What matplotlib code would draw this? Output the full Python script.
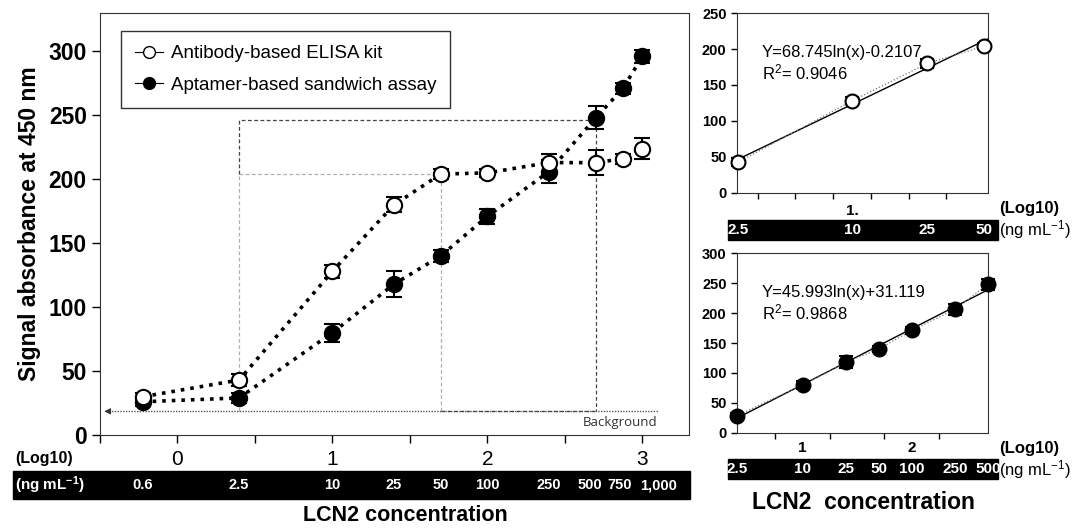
import matplotlib
matplotlib.use("Agg")
import matplotlib.pyplot as plt
import matplotlib.transforms as mtransforms
from matplotlib.patches import Rectangle
import numpy as np

plt.rcParams["font.family"] = ["Liberation Sans", "DejaVu Sans"]
plt.rcParams["mathtext.fontset"] = "custom"
plt.rcParams["mathtext.rm"] = "Liberation Sans"
plt.rcParams["mathtext.bf"] = "Liberation Sans:bold"
plt.rcParams["mathtext.default"] = "regular"

# LCN2 concentrations (ng/mL) and signals
conc = [0.6, 2.5, 10, 25, 50, 100, 250, 500, 750, 1000]
conc_labels = ["0.6", "2.5", "10", "25", "50", "100", "250", "500", "750", "1,000"]
elisa = [30, 43, 128, 180, 204, 205, 213, 213, 216, 224]
elisa_err = [3, 5, 5, 6, 4, 3, 7, 10, 4, 8]
aptamer = [26, 29, 80, 118, 140, 171, 206, 248, 271, 296]
aptamer_err = [3, 4, 7, 10, 5, 6, 9, 9, 4, 5]

background = 18.5
lod_low, lod_high = 204, 246   # guide levels

elisa_eq = "Y=68.745ln(x)-0.2107"
elisa_r2 = "R$^2$= 0.9046"
apt_eq = "Y=45.993ln(x)+31.119"
apt_r2 = "R$^2$= 0.9868"

logc = np.log10(conc)

fig = plt.figure(figsize=(10.83, 5.29), dpi=100)
ax = fig.add_axes([0.0923, 0.1777, 0.5437, 0.7977])

# --- guide lines ---
dark = dict(color="#444444", lw=0.9, ls=(0, (3, 2)))
light = dict(color="#b0b0b0", lw=0.9, ls=(0, (3, 2)))
x25, x50, x500 = logc[1], logc[4], logc[7]
ax.plot([x25, x25], [background, lod_low], **light)
ax.plot([x25, x50], [lod_low, lod_low], **light)
ax.plot([x50, x50], [background, lod_low], **light)
ax.plot([x25, x25, x500, x500], [lod_low, lod_high, lod_high, background], **dark)
ax.plot([-0.46, 3.1], [background, background], color="#555555", lw=1, ls=(0, (1, 1)))
ax.plot([x50, x500], [background, background], **dark)
ax.annotate("", xy=(-0.49, background), xytext=(-0.44, background),
            arrowprops=dict(arrowstyle="-|>", color="#333333", lw=0.8, mutation_scale=9))
ax.text(3.1, background - 4, "Background", ha="right", va="top",
        fontsize=9.5, color="#333333", family="Open Sans")

# --- data ---
ax.errorbar(logc, aptamer, yerr=aptamer_err, fmt="o", color="black", ms=11,
            mfc="black", mec="black", mew=1.5, capsize=6, elinewidth=1.5,
            capthick=1.5, zorder=4)
ax.plot(logc, aptamer, ls=":", color="black", lw=2.6, zorder=3)
ax.errorbar(logc, elisa, yerr=elisa_err, fmt="o", color="black", ms=11,
            mfc="white", mec="black", mew=1.5, capsize=6, elinewidth=1.5,
            capthick=1.5, zorder=6)
ax.plot(logc, elisa, ls=":", color="black", lw=2.6, zorder=5)

# legend proxies
h1, = ax.plot([], [], "-o", color="black", mfc="white", ms=8.5, lw=0.8)
h2, = ax.plot([], [], "-o", color="black", mfc="black", ms=8.5, lw=0.8)
leg = ax.legend([h1, h2], ["Antibody-based ELISA kit", "Aptamer-based sandwich assay"],
                loc="upper left", bbox_to_anchor=(0.02, 0.979), fontsize=13.5,
                handlelength=1.5, handletextpad=0.4, borderpad=0.75,
                labelspacing=0.75, fancybox=False, framealpha=1)
leg.get_frame().set_edgecolor("#333333")
leg.get_frame().set_linewidth(1)

ax.set_xlim(-0.5, 3.3)
ax.set_ylim(0, 330)
ax.set_yticks(range(0, 301, 50))
ax.set_xticks([0, 1, 2, 3])
ax.set_xticks([-0.5, 0.5, 1.5, 2.5], minor=True)
ax.tick_params(axis="y", labelsize=16.5, length=6, width=1)
ax.tick_params(axis="x", which="both", labelsize=15, length=6, width=1, pad=5)
for t in ax.get_yticklabels():
    t.set_fontweight("bold")
for s in ax.spines.values():
    s.set_color("#333333")
ax.set_ylabel("Signal absorbance at 450 nm", fontsize=16.5, fontweight="bold", labelpad=5)

# concentration band under the main axes
fig.patches.append(Rectangle((0.012, 0.0567), 0.625, 0.053, transform=fig.transFigure,
                             color="black", zorder=0))
bt = mtransforms.blended_transform_factory(ax.transData, fig.transFigure)
nudge_px = {"500": -6, "750": -3, "1,000": 16}
for x, lab in zip(logc, conc_labels):
    tr = bt + mtransforms.ScaledTranslation(nudge_px.get(lab, 0) / 100, 0, fig.dpi_scale_trans)
    fig.text(x, 0.083, lab, transform=tr, ha="center", va="center", color="white",
             fontsize=10.5, fontweight="bold")
fig.text(0.014, 0.083, "(ng mL$^{\\mathbf{-1}}$)", ha="left", va="center", color="white",
         fontsize=11, fontweight="bold")
fig.text(0.014, 0.134, "(Log10)", ha="left", va="center", fontsize=11.5, fontweight="bold")
fig.text(0.374, 0.026, "LCN2 concentration", ha="center", va="center",
         fontsize=15.5, fontweight="bold")


def inset(rect, xs, ys, errs, fill, ylim, xlim, eq, r2, band_y, labels):
    a = fig.add_axes(rect)
    lx = np.log10(xs)
    slope, icpt = np.polyfit(lx, ys, 1)
    xx = np.array(xlim)
    a.plot(xx, slope * xx + icpt, color="black", lw=1, zorder=2)
    a.plot(lx, ys, ls=":", color="#777777", lw=0.9, zorder=2)
    a.errorbar(lx, ys, yerr=errs, fmt="o", color="black", ms=10, mfc=fill,
               mec="black", mew=1.5, capsize=5, elinewidth=1.2, capthick=1.5,
               zorder=4, clip_on=False)
    a.set_xlim(*xlim)
    a.set_ylim(*ylim)
    a.tick_params(axis="y", labelsize=10.5, length=4, width=1)
    for t in a.get_yticklabels():
        t.set_fontweight("bold")
    for s in a.spines.values():
        s.set_color("#333333")
    a.text(0.1, 0.78, eq, transform=a.transAxes, fontsize=12, va="center")
    a.text(0.1, 0.672, r2, transform=a.transAxes, fontsize=12, va="center")
    # band
    fig.patches.append(Rectangle((0.672, band_y - 0.019), 0.2495, 0.038,
                                 transform=fig.transFigure, color="black", zorder=0))
    t2 = mtransforms.blended_transform_factory(a.transData, fig.transFigure)
    for x, lab in zip(lx, labels):
        fig.text(x, band_y, lab, transform=t2, ha="center", va="center",
                 color="white", fontsize=11, fontweight="bold")
    fig.text(0.9225, band_y, "(ng mL$^{-1}$)", ha="left", va="center", fontsize=12)
    fig.text(0.9225, band_y + 0.04, "(Log10)", ha="left", va="center",
             fontsize=12, fontweight="bold")
    return a


# top inset: ELISA, 2.5-50 ng/mL
top = inset([0.6805, 0.6352, 0.2318, 0.3402], conc[1:5], elisa[1:5], elisa_err[1:5],
            "white", (0, 250), (0.39, 1.72), elisa_eq, elisa_r2, 0.566, conc_labels[1:5])
top.set_yticks(range(0, 251, 50))
top.set_xticks([1])
top.set_xticklabels(["1."])
top.set_xticks(np.arange(0.5, 1.6, 0.2), minor=True)
top.tick_params(axis="x", which="major", length=0, labelsize=11, pad=8)
top.tick_params(axis="x", which="minor", length=4, width=1)

# bottom inset: aptamer, 2.5-500 ng/mL
bot = inset([0.6805, 0.1815, 0.2318, 0.3402], conc[1:8], aptamer[1:8], aptamer_err[1:8],
            "black", (0, 300), (0.398, 2.70), apt_eq, apt_r2, 0.113, conc_labels[1:8])
bot.set_yticks(range(0, 301, 50))
bot.set_xticks([1, 2])
bot.set_xticklabels(["1", "2"])
bot.set_xticks([0.75, 1.25, 1.75, 2.25], minor=True)
bot.tick_params(axis="x", which="major", length=0, labelsize=11, pad=6)
bot.tick_params(axis="x", which="minor", length=4, width=1)
for t in bot.get_xticklabels() + top.get_xticklabels():
    t.set_fontweight("bold")

fig.text(0.797, 0.051, "LCN2  concentration", ha="center", va="center",
         fontsize=16.5, fontweight="bold")

fig.savefig("out.png", dpi=100)
